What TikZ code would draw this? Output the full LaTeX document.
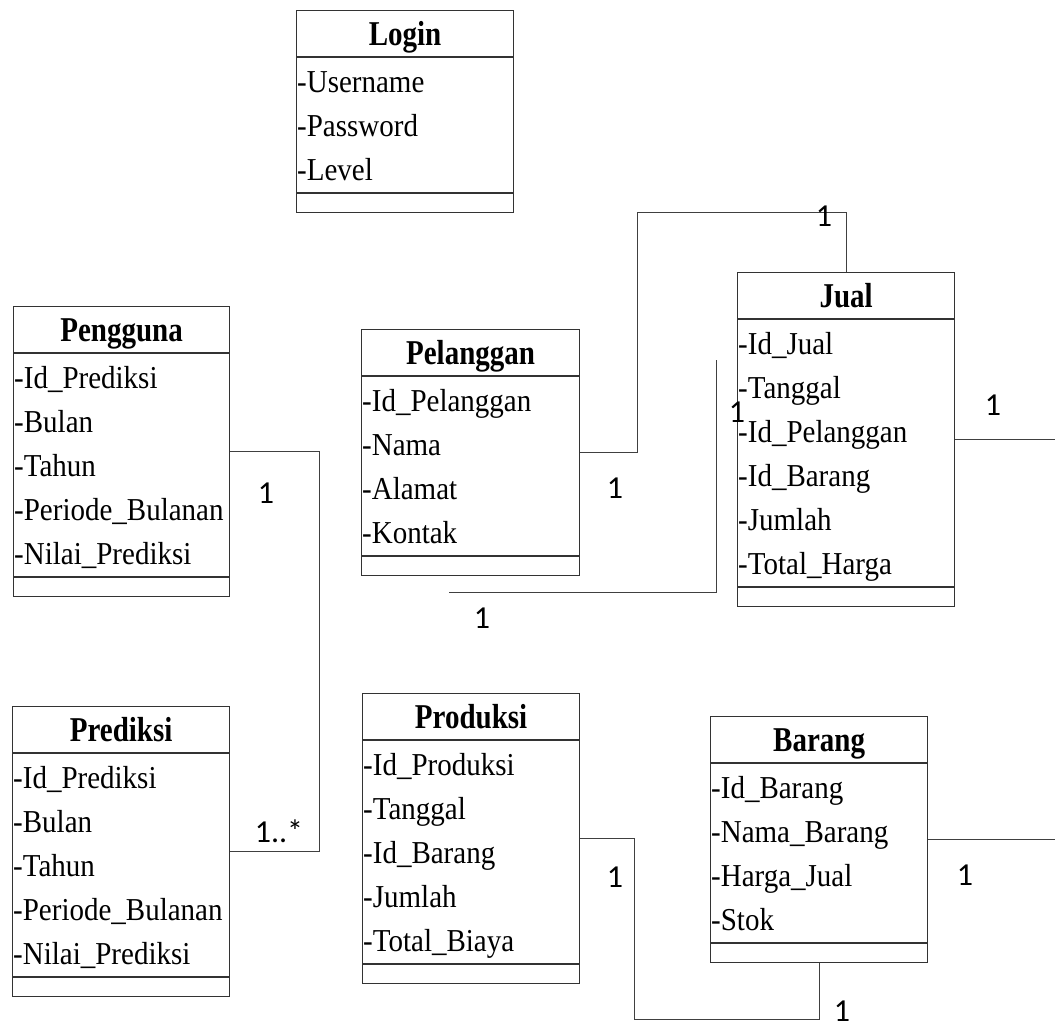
\documentclass[tikz,border=0pt]{standalone}
\usepackage{fontspec}
\setmainfont{Liberation Serif}
\newfontfamily\labelfont{Carlito}
\usetikzlibrary{calc}

\tikzset{
  classbox/.style={draw=black!80, line width=1.2pt, rectangle, inner sep=0pt,
    anchor=north west},
  classtitle/.style={font=\fontsize{29}{29}\selectfont\bfseries, inner sep=0pt,
    text height=23pt, text depth=0pt},
  attr/.style={font=\fontsize{29}{29}\selectfont, inner sep=0pt, anchor=west,
    text height=21pt, text depth=0pt},
  rule/.style={draw=black!80, line width=1.2pt},
  link/.style={draw=black!75, line width=1pt},
  mult/.style={font=\labelfont\fontsize{32}{32}\selectfont, inner sep=0pt,
    text height=20pt, text depth=0pt},
}

% #1 id, #2 x, #3 y, #4 width, #5 number of attributes, #6 title, #7 attributes
\newcommand\umlclass[7]{%
  \node[classbox, minimum width=#4pt, minimum height={70pt+44pt*#5}] (#1) at (#2,#3) {};
  \draw[rule] ($(#1.north west)+(0,47)$) -- ($(#1.north east)+(0,47)$);
  \draw[rule] ($(#1.north west)+(0,{51+44*#5})$) -- ($(#1.north east)+(0,{51+44*#5})$);
  \node[classtitle] (#1-title) at ($(#1.north)+(0,23.5)$) {\scalebox{1}[1.2]{#6}};
  \foreach \a [count=\i] in {#7}
    \node[attr] (#1-a\i) at ($(#1.north west)+(1,{72+44*(\i-1)})$) {\scalebox{1}[1.1]{\a}};
}

\begin{document}
\begin{tikzpicture}[x=1pt, y=-1pt]
\useasboundingbox (0,0) rectangle (1055,1026);
\coordinate (rightedge) at (1055,0);

\umlclass{login}{296}{10}{217}{3}{Login}{-Username,-Password,-Level}
\umlclass{pengguna}{13}{306}{216}{5}{Pengguna}%
  {-Id\_Prediksi,-Bulan,-Tahun,-Periode\_Bulanan,-Nilai\_Prediksi}
\umlclass{prediksi}{12}{706}{217}{5}{Prediksi}%
  {-Id\_Prediksi,-Bulan,-Tahun,-Periode\_Bulanan,-Nilai\_Prediksi}
\umlclass{pelanggan}{361}{329}{218}{4}{Pelanggan}%
  {-Id\_Pelanggan,-Nama,-Alamat,-Kontak}
\umlclass{jual}{737}{272}{217}{6}{Jual}%
  {-Id\_Jual,-Tanggal,-Id\_Pelanggan,-Id\_Barang,-Jumlah,-Total\_Harga}
\umlclass{produksi}{362}{693}{217}{5}{Produksi}%
  {-Id\_Produksi,-Tanggal,-Id\_Barang,-Jumlah,-Total\_Biaya}
\umlclass{barang}{710}{716}{217}{4}{Barang}%
  {-Id\_Barang,-Nama\_Barang,-Harga\_Jual,-Stok}

% associations
\draw[link] (pengguna.east) -- ++(89,0) |- (prediksi.east);
\draw[link] (pelanggan.east) -- ++(57,0) |- ($(jual.north)+(0,-60)$) -- (jual.north);
\coordinate (loose-a) at (449,592);
\coordinate (loose-b) at (716,360);
\draw[link] (loose-a) -| (loose-b);
\draw[link] (jual.east) -- (jual.east -| rightedge);
\draw[link] (produksi.east) -- ++(54,0) |- ($(barang.south)+(0,56)$) -- (barang.south);
\draw[link] (barang.east) -- (barang.east -| rightedge);

% multiplicities
\node[mult] (m1) at (266,493) {1};
\node[mult] (m2) at (279,832) {1..*};
\node[mult] (m3) at (824,216) {1};
\node[mult] (m4) at (615,488) {1};
\node[mult] (m5) at (482,618) {1};
\node[mult] (m6) at (737,412) {1};
\node[mult] (m7) at (993,405) {1};
\node[mult] (m8) at (615,877) {1};
\node[mult] (m9) at (965,875) {1};
\node[mult] (m10) at (842,1011) {1};
\end{tikzpicture}
\end{document}
